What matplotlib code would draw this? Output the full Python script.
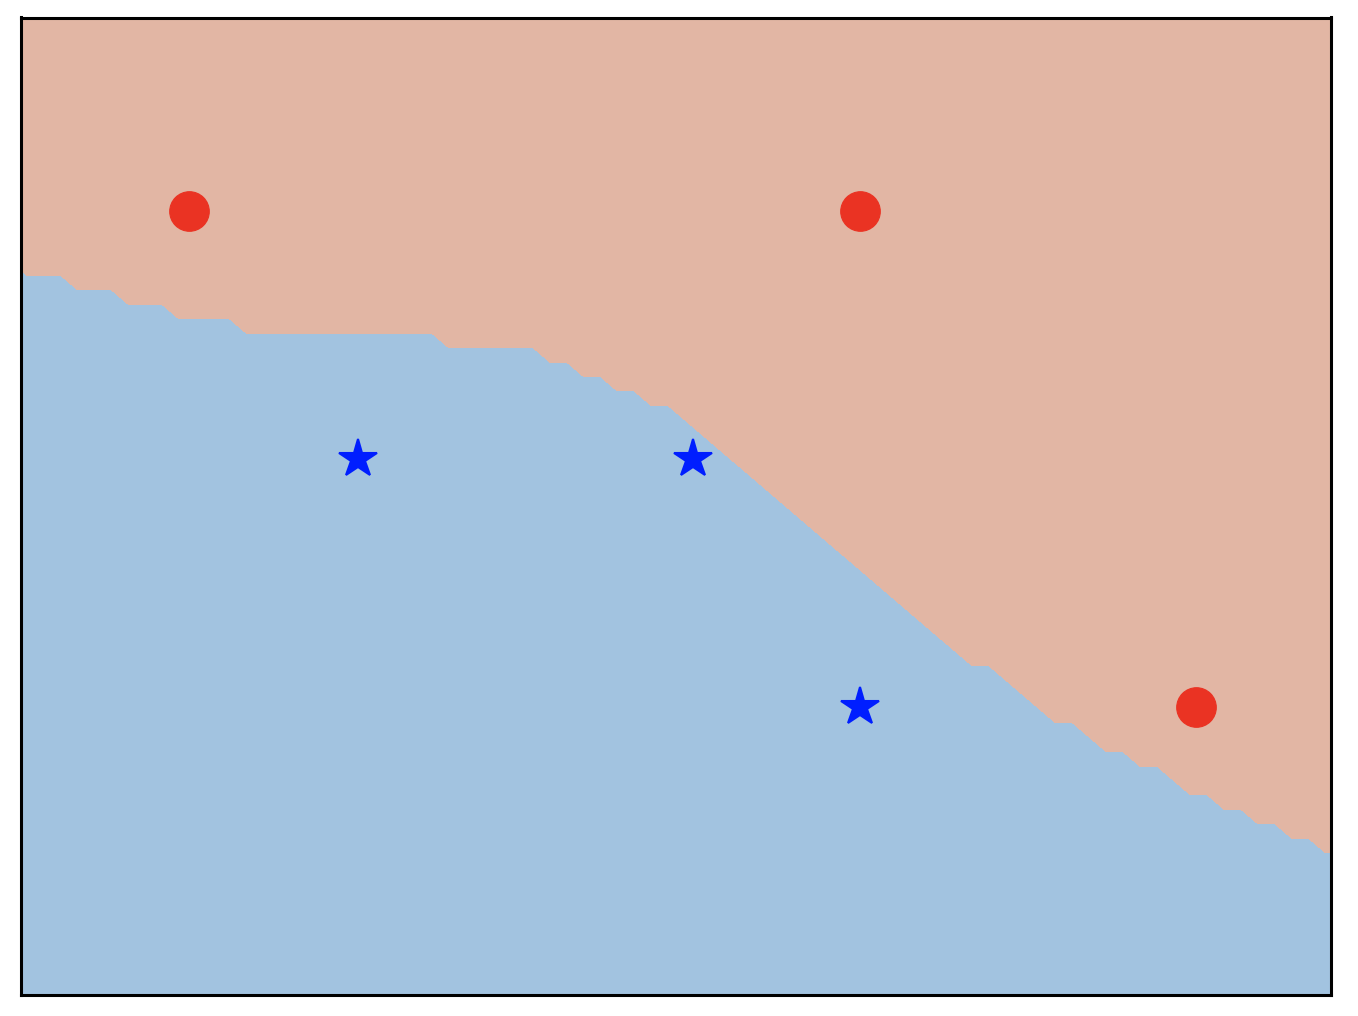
"""
Decision regions of a two-class toy problem: class regions drawn with
contourf on a coarse grid, samples drawn on top.
"""

import numpy as np
import matplotlib
matplotlib.use('Agg')
import matplotlib.pyplot as plt

# samples (red circles = class 1, blue stars = class 0)
red_x = [0.96, 4.94, 6.93]
red_y = [5.50, 5.50, 2.06]
blue_x = [1.96, 3.95, 4.94]
blue_y = [3.78, 3.78, 2.06]

# decision boundary: for every grid column (x = -0.1 .. 7.8,
# step 0.1) the height above which the classifier says "red"
boundary_y = [
    5.15,
    5.05, 5.05, 5.05,
    4.95, 4.95, 4.95,
    4.85, 4.85, 4.85,
    4.75, 4.75, 4.75, 4.75,
    4.65, 4.65, 4.65, 4.65, 4.65, 4.65, 4.65, 4.65, 4.65, 4.65, 4.65, 4.65,
    4.55, 4.55, 4.55, 4.55, 4.55, 4.55,
    4.45, 4.45,
    4.35, 4.35,
    4.25, 4.25,
    4.15, 4.15,
    4.05, 3.95, 3.85, 3.75, 3.65, 3.55, 3.45, 3.35, 3.25,
    3.15, 3.05, 2.95, 2.85, 2.75, 2.65, 2.55, 2.45,
    2.35, 2.35,
    2.25, 2.15, 2.05,
    1.95, 1.95,
    1.85,
    1.75, 1.75,
    1.65, 1.65,
    1.55,
    1.45, 1.45,
    1.35, 1.35,
    1.25, 1.25,
    1.15, 1.15,
    1.05, 1.05,
]

BLUE_REGION = '#a2c3e0'
RED_REGION = '#e2b6a4'
RED = '#ea3323'
BLUE = '#001eff'

# grid the classifier was evaluated on
h = 0.1
grid_x = np.arange(len(boundary_y)) * h - h
grid_y = np.arange(70) * h
xx, yy = np.meshgrid(grid_x, grid_y)
Z = (yy > np.asarray(boundary_y)[np.newaxis, :]).astype(float)

fig = plt.figure(figsize=(13.58, 10.16), dpi=100)
W, H = 1358.0, 1016.0
ax = fig.add_axes([20.5 / W, (H - 994.5) / H, (1330.5 - 20.5) / W, (994.5 - 17.5) / H])

ax.contourf(xx, yy, Z, levels=[-0.5, 0.5, 1.5], colors=[BLUE_REGION, RED_REGION])

ax.plot(red_x, red_y, 'o', color=RED, markersize=28.5, markeredgewidth=0.8, markeredgecolor=RED)
ax.plot(blue_x, blue_y, '*', color=BLUE, markersize=28.5, markeredgewidth=1.5, markeredgecolor=BLUE)

ax.set_xlim(-0.0397, 7.730)
ax.set_ylim(0.067, 6.838)
ax.set_xticks([])
ax.set_yticks([])
for spine in ax.spines.values():
    spine.set_linewidth(2.2)

fig.savefig('out.png', dpi=100)
